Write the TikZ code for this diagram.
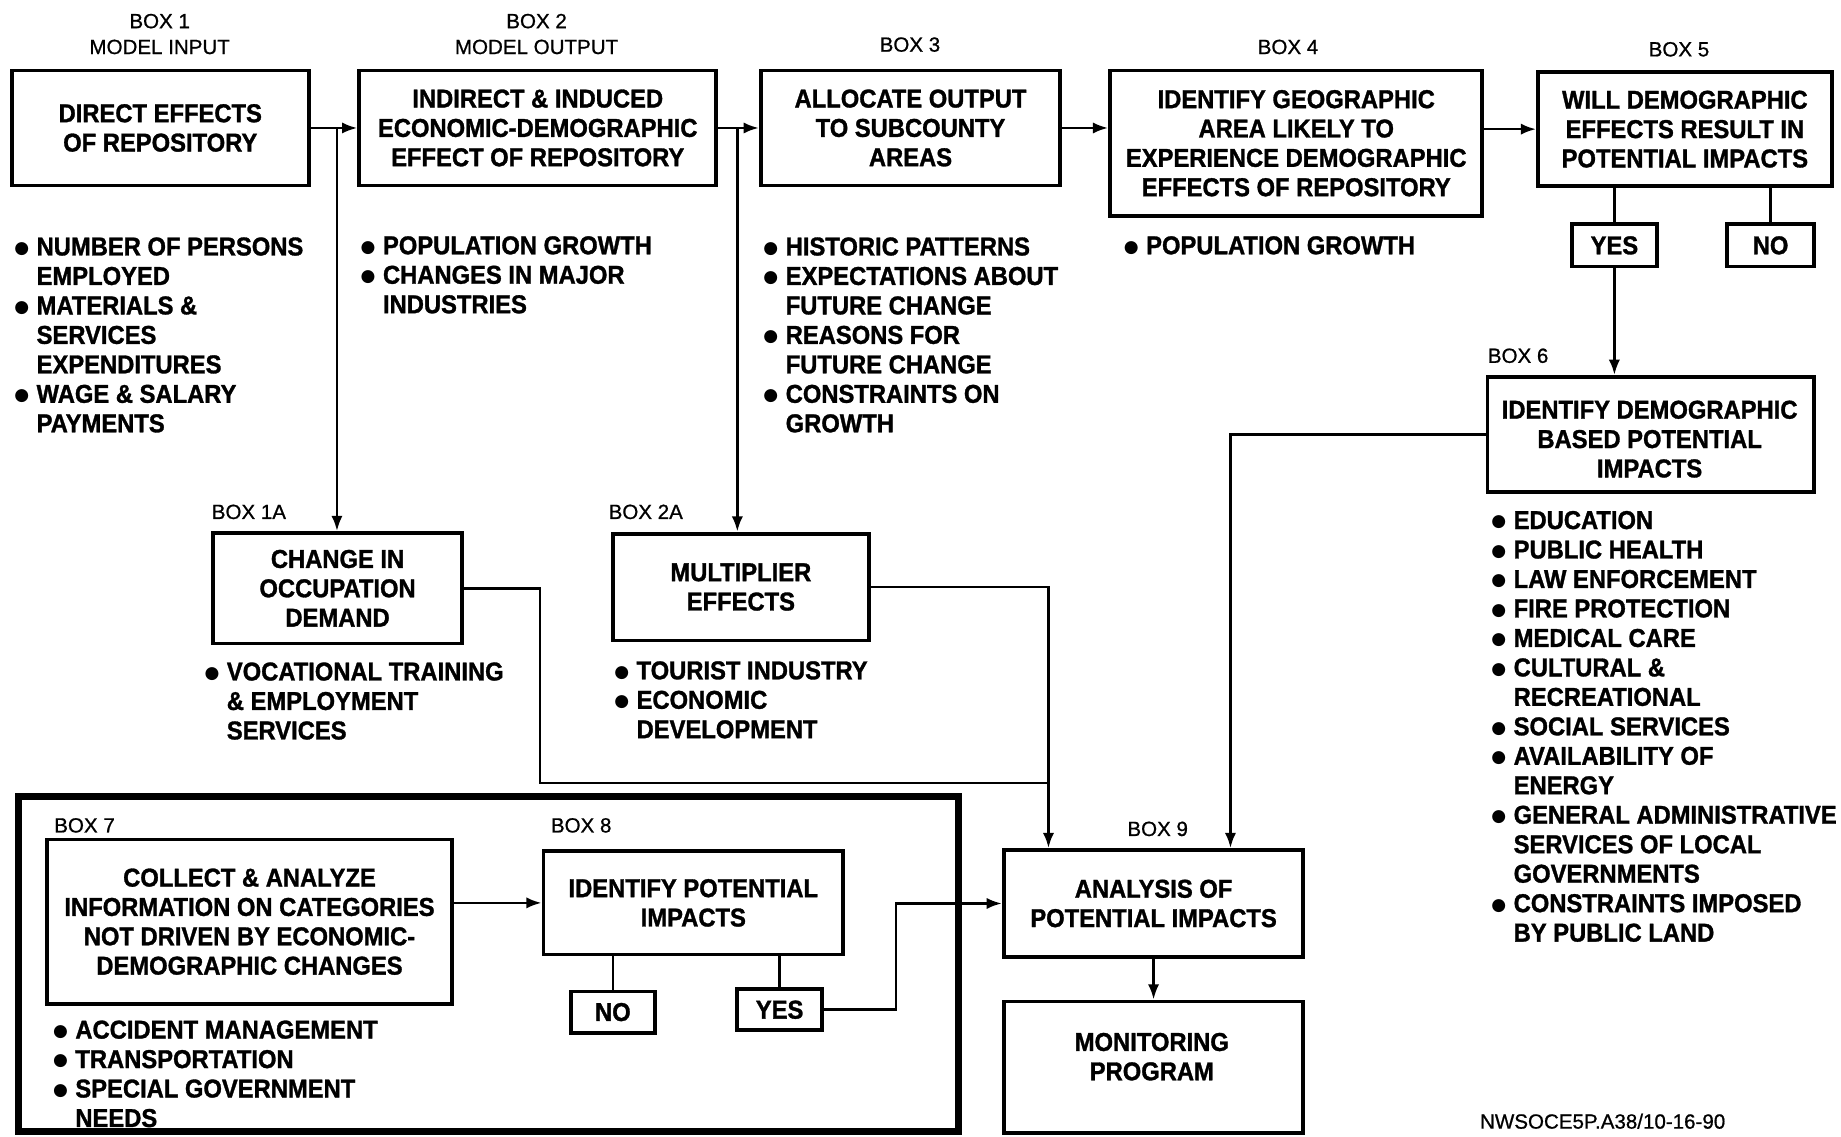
\documentclass[tikz,border=0pt]{standalone}
\usepackage{fontspec}
\setmainfont{Liberation Sans}
\newfontfamily\condfont{Liberation Sans}[FakeStretch=0.92,FakeBold=1.2]
\newfontfamily\labfont{Liberation Sans}[FakeBold=0.8]
\newfontfamily\bulletfont{DejaVu Sans}
\usetikzlibrary{arrows.meta,calc}
\newcommand\bu{\makebox[19pt][l]{\smash{\raisebox{1.8pt}{\bulletfont\fontsize{14.5}{15}\selectfont ●}}}}
\newcommand\ind{\hspace*{19pt}}
\tikzset{
 bx/.style={draw, line width=3.2pt, align=center, inner sep=0pt, font=\condfont\bfseries\fontsize{22}{25}\selectfont},
 boxtext/.style={align=center, inner sep=0pt, font=\condfont\bfseries\fontsize{22}{25}\selectfont},
 conn/.style={line width=2.3pt},
 arr/.style={line width=2.3pt, -{Latex[length=13pt,width=9.5pt]}},
 boxlabel/.style={font=\labfont\fontsize{17.5}{20}\selectfont, inner sep=0pt},
 blist/.style={anchor=north west, align=left, inner sep=0pt, font=\condfont\bfseries\fontsize{22}{25.1}\selectfont},
}
\begin{document}
\begin{tikzpicture}[x=1pt,y=-1pt]
\fill[white] (0,0) rectangle (1568,968);
\useasboundingbox (0,0) rectangle (1568,968);

% ---------- labels
\node[boxlabel] (l1) at (136,18) {BOX 1};
\node[boxlabel] (l1b) at (136,40) {MODEL INPUT};
\node[boxlabel] (l2) at (457,18) {BOX 2};
\node[boxlabel] (l2b) at (457,40) {MODEL OUTPUT};
\node[boxlabel] (l3) at (775,38) {BOX 3};
\node[boxlabel] (l4) at (1097,40) {BOX 4};
\node[boxlabel] (l5) at (1430,42) {BOX 5};
\node[boxlabel] (l6) at (1293,303) {BOX 6};
\node[boxlabel] (l1a) at (212,436) {BOX 1A};
\node[boxlabel] (l2a) at (550,436) {BOX 2A};
\node[boxlabel] (l7) at (72,703) {BOX 7};
\node[boxlabel] (l8) at (495,703) {BOX 8};
\node[boxlabel] (l9) at (986,706) {BOX 9};
\node[boxlabel] (foot) at (1365,955) {NWSOCE5P.A38/10-16-90};

% ---------- boxes
\node[bx, minimum width=253pt, minimum height=98pt] (b1) at (136.5,109) {DIRECT EFFECTS\\OF REPOSITORY};
\node[bx, minimum width=304pt, minimum height=98pt] (b2) at (458,109) {INDIRECT \& INDUCED\\ECONOMIC-DEMOGRAPHIC\\EFFECT OF REPOSITORY};
\node[bx, minimum width=255pt, minimum height=98pt] (b3) at (775.5,109) {ALLOCATE OUTPUT\\TO SUBCOUNTY\\AREAS};
\node[bx, minimum width=317pt, minimum height=124pt] (b4) at (1104,122) {IDENTIFY GEOGRAPHIC\\AREA LIKELY TO\\EXPERIENCE DEMOGRAPHIC\\EFFECTS OF REPOSITORY};
\node[bx, minimum width=250pt, minimum height=97pt] (b5) at (1435,110) {WILL DEMOGRAPHIC\\EFFECTS RESULT IN\\POTENTIAL IMPACTS};
\node[bx, minimum width=72pt, minimum height=36pt] (yes5) at (1375,209) {YES};
\node[bx, minimum width=74pt, minimum height=36pt] (no5) at (1508,209) {NO};
\node[bx, minimum width=278pt, minimum height=98pt] (b6) at (1406,370) {};
\node[boxtext] (b6t) at (1405,374) {IDENTIFY DEMOGRAPHIC\\BASED POTENTIAL\\IMPACTS};
\node[bx, minimum width=212pt, minimum height=94pt] (b1a) at (287.5,501) {CHANGE IN\\OCCUPATION\\DEMAND};
\node[bx, minimum width=218pt, minimum height=91pt] (b2a) at (631,500) {MULTIPLIER\\EFFECTS};
\node[draw, line width=6pt, minimum width=800pt, minimum height=285pt, inner sep=0pt] (frame) at (416,821) {};
\node[bx, minimum width=345pt, minimum height=140pt] (b7) at (212.5,785) {COLLECT \& ANALYZE\\INFORMATION ON CATEGORIES\\NOT DRIVEN BY ECONOMIC-\\DEMOGRAPHIC CHANGES};
\node[bx, minimum width=255pt, minimum height=88pt] (b8) at (590.5,769) {IDENTIFY POTENTIAL\\IMPACTS};
\node[bx, minimum width=72pt, minimum height=35pt] (no8) at (522,862) {NO};
\node[bx, minimum width=72pt, minimum height=35pt] (yes8) at (664,860) {YES};
\node[bx, minimum width=255pt, minimum height=91pt] (b9) at (982.5,769.5) {ANALYSIS OF\\POTENTIAL IMPACTS};
\node[bx, minimum width=255pt, minimum height=112pt] (mon) at (982.5,909) {};
\node[boxtext] (mont) at (981,900) {MONITORING\\PROGRAM};

% ---------- bullet lists
\node[blist] (t1) at (12,202) {\bu NUMBER OF PERSONS\\\ind EMPLOYED\\\bu MATERIALS \&\\\ind SERVICES\\\ind EXPENDITURES\\\bu WAGE \& SALARY\\\ind PAYMENTS};
\node[blist] (t2) at (307,201) {\bu POPULATION GROWTH\\\bu CHANGES IN MAJOR\\\ind INDUSTRIES};
\node[blist] (t3) at (650,202) {\bu HISTORIC PATTERNS\\\bu EXPECTATIONS ABOUT\\\ind FUTURE CHANGE\\\bu REASONS FOR\\\ind FUTURE CHANGE\\\bu CONSTRAINTS ON\\\ind GROWTH};
\node[blist] (t4) at (957,201) {\bu POPULATION GROWTH};
\node[blist] (t6) at (1270,435) {\bu EDUCATION\\\bu PUBLIC HEALTH\\\bu LAW ENFORCEMENT\\\bu FIRE PROTECTION\\\bu MEDICAL CARE\\\bu CULTURAL \&\\\ind RECREATIONAL\\\bu SOCIAL SERVICES\\\bu AVAILABILITY OF\\\ind ENERGY\\\bu GENERAL ADMINISTRATIVE\\\ind SERVICES OF LOCAL\\\ind GOVERNMENTS\\\bu CONSTRAINTS IMPOSED\\\ind BY PUBLIC LAND};
\node[blist] (t1a) at (174,564) {\bu VOCATIONAL TRAINING\\\ind \& EMPLOYMENT\\\ind SERVICES};
\node[blist] (t2a) at (523,563) {\bu TOURIST INDUSTRY\\\bu ECONOMIC\\\ind DEVELOPMENT};
\node[blist] (t7) at (45,869) {\bu ACCIDENT MANAGEMENT\\\bu TRANSPORTATION\\\bu SPECIAL GOVERNMENT\\\ind NEEDS};

% ---------- connectors
\coordinate (j1) at (287,109);
\coordinate (j2) at (628,109);
\coordinate (c6) at (1048,0);
\coordinate (c1a) at (460,667);
\coordinate (c2a) at (893,667);
\coordinate (c8) at (763,0);

\draw[arr] (b1.east) -- (b2.west);
\draw[arr] (j1) -- (j1 |- b1a.north);
\draw[arr] (b2.east) -- (b3.west);
\draw[arr] (j2) -- (j2 |- b2a.north);
\draw[arr] (b3.east) -- (b3.east -| b4.west);
\draw[arr] (b5.west -| b4.east) -- (b5.west);
\draw[conn] (yes5.north |- b5.south) -- (yes5.north);
\draw[conn] (no5.north |- b5.south) -- (no5.north);
\draw[arr] (yes5.south) -- (yes5.south |- b6.north);
\draw[arr] (b6.west) -| (c6 |- b9.north);
\draw[conn] (b1a.east) -| (c1a) -- (c2a);
\draw[arr] (b2a.east) -| (c2a |- b9.north);
\draw[arr] (b8.west -| b7.east) -- (b8.west);
\draw[conn] (no8.north |- b8.south) -- (no8.north);
\draw[conn] (yes8.north |- b8.south) -- (yes8.north);
\draw[arr] (yes8.east) -| (c8 |- b9.west) -- (b9.west);
\draw[arr] (b9.south) -- (mon.north);
\end{tikzpicture}
\end{document}
